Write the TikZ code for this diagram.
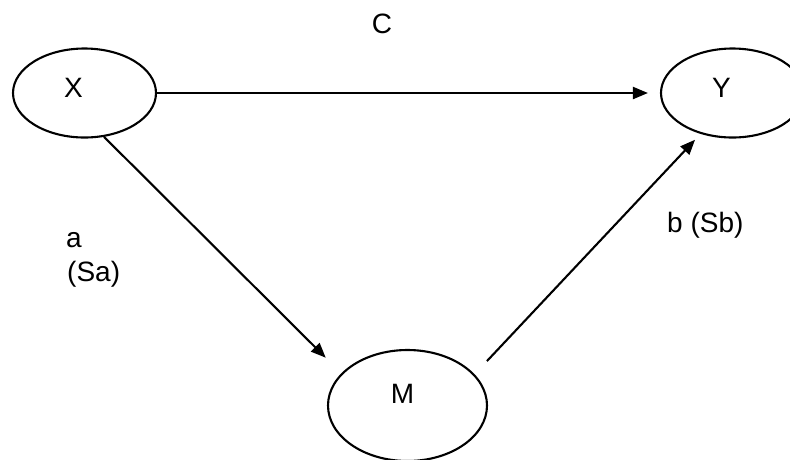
\documentclass[tikz,border=0pt]{standalone}
\usepackage{fontspec}
\setmainfont{Liberation Sans}
\usetikzlibrary{shapes.geometric,arrows.meta}
\begin{document}
\begin{tikzpicture}[x=1pt, y=-1pt,
    var/.style={draw, ellipse, line width=2.1pt, inner sep=0pt},
    conn/.style={line width=2.1pt, -{Triangle[length=15pt, width=12pt]}},
    lbl/.style={inner sep=0pt, anchor=base west, font=\fontsize{28}{34}\selectfont}]
    \useasboundingbox (0,0) rectangle (790,459);

    % Variables
    \node[var, minimum width=143pt, minimum height=89pt] (X) at (84.5,93) {};
    \node[var, minimum width=143pt, minimum height=89pt] (Y) at (732.5,93) {};
    \node[var, minimum width=159pt, minimum height=111pt] (M) at (407.5,405.5) {};
    \node[lbl, anchor=base] (Xt) at (73.5,97) {X};
    \node[lbl, anchor=base] (Yt) at (721.5,97) {Y};
    \node[lbl, anchor=base] (Mt) at (402.5,403) {M};

    % Paths
    \draw[conn, shorten >=12pt] (X.east) -- (Y.west);
    \draw[conn, shorten >=22pt] (X.294) -- (M.154);
    \draw[conn, shorten <=18pt, shorten >=8pt] (M.25) -- (Y.232);

    % Path labels
    \node[lbl, anchor=base] (c) at (382,33) {C};
    \node[lbl] (a) at (66,247) {a};
    \node[lbl] (sa) at (67,281) {(Sa)};
    \node[lbl] (b) at (667,232) {b (Sb)};
\end{tikzpicture}
\end{document}
